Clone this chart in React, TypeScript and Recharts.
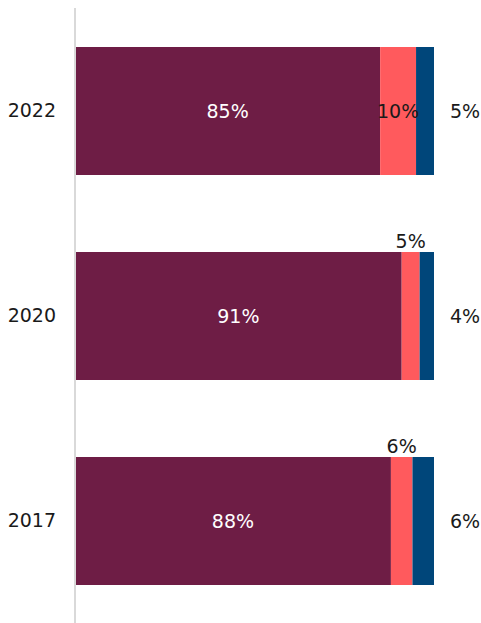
import React from 'react';
import { BarChart, Bar, XAxis, YAxis, LabelList } from 'recharts';

const categories = ['2022', '2020', '2017'];
const agree = [85, 91, 88];
const neutral = [10, 5, 6];
const disagree = [5, 4, 6];

const data = categories.map((year, i) => ({
  year,
  agree: agree[i],
  neutral: neutral[i],
  disagree: disagree[i],
}));

const FONT = '"DejaVu Sans", Verdana, sans-serif';
const FS = 19;

const InsideWhite = (props: any) => {
  const { x, y, width, height, value } = props;
  return (
    <text x={x + width / 2} y={y + height / 2} textAnchor="middle" dominantBaseline="central"
      fill="#ffffff" fontSize={FS} fontFamily={FONT}>{value}%</text>
  );
};

const NeutralLabel = (props: any) => {
  const { x, y, width, height, value } = props;
  if (width > 30) {
    return (
      <text x={x + width / 2} y={y + height / 2} textAnchor="middle" dominantBaseline="central"
        fill="#1a1a1a" fontSize={FS} fontFamily={FONT}>{value}%</text>
    );
  }
  return (
    <text x={x + width / 2} y={y - 4} textAnchor="middle"
      fill="#1a1a1a" fontSize={FS} fontFamily={FONT}>{value}%</text>
  );
};

const RightLabel = (props: any) => {
  const { x, y, width, height, value } = props;
  return (
    <text x={x + width + 16} y={y + height / 2} textAnchor="start" dominantBaseline="central"
      fill="#1a1a1a" fontSize={FS} fontFamily={FONT}>{value}%</text>
  );
};

export default function App() {
  return (
    <div style={{ position: 'absolute', left: 0, top: 0, width: 481, height: 623, background: '#fff' }}>
      <BarChart width={481} height={623} data={data} layout="vertical"
        margin={{ top: 8, right: 47, bottom: 0, left: 0 }}>
        <XAxis type="number" hide domain={[0, 100]} />
        <YAxis type="category" dataKey="year" width={75}
          axisLine={{ stroke: '#d9d9d9', strokeWidth: 2 }} tickLine={false} tickSize={0} tickMargin={19}
          tick={{ fill: '#1a1a1a', fontSize: FS, fontFamily: FONT }} />
        <Bar dataKey="agree" stackId="a" fill="#6e1d45" barSize={128} isAnimationActive={false}>
          <LabelList dataKey="agree" content={InsideWhite} />
        </Bar>
        <Bar dataKey="neutral" stackId="a" fill="#ff5a5d" barSize={128} isAnimationActive={false}>
          <LabelList dataKey="neutral" content={NeutralLabel} />
        </Bar>
        <Bar dataKey="disagree" stackId="a" fill="#00467a" barSize={128} isAnimationActive={false}>
          <LabelList dataKey="disagree" content={RightLabel} />
        </Bar>
      </BarChart>
    </div>
  );
}
